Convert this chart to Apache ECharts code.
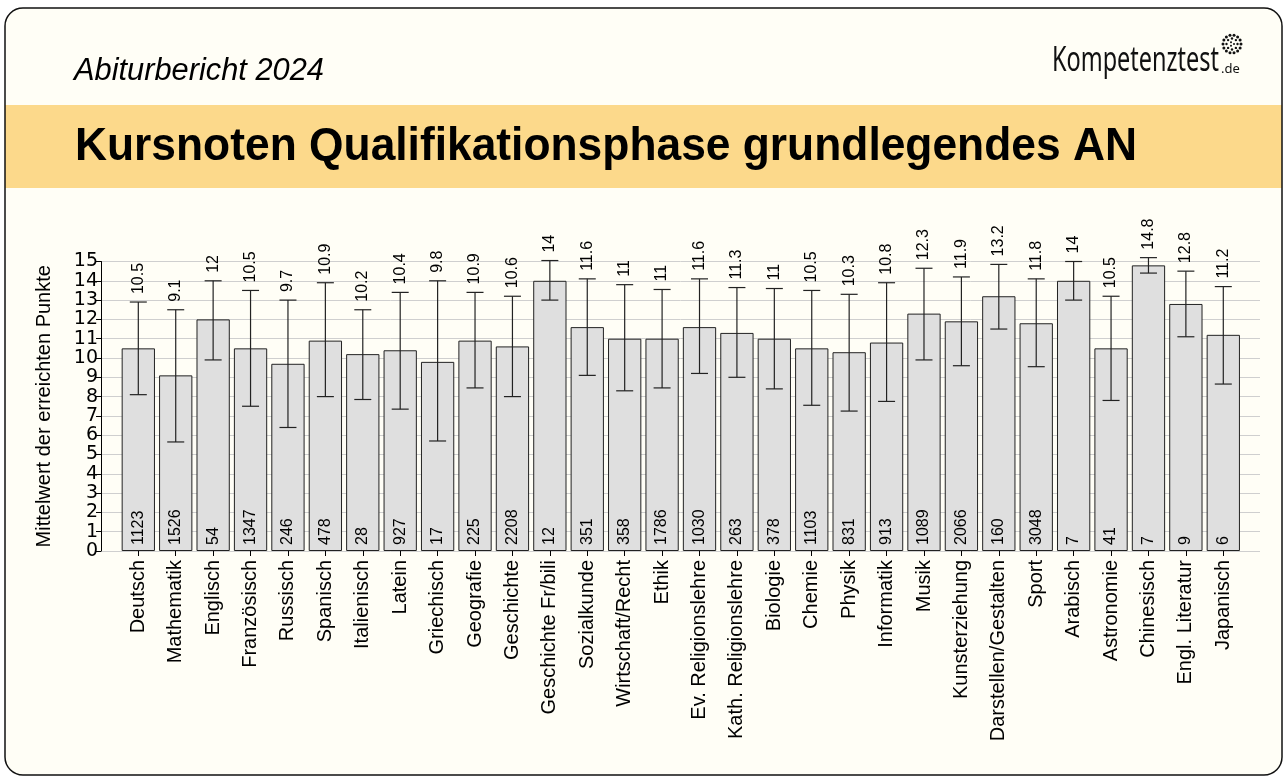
<!DOCTYPE html>
<html>
<head>
<meta charset="utf-8">
<script src="https://cdn.jsdelivr.net/npm/echarts@6/dist/echarts.min.js"></script>
<style>
  html, body { margin: 0; padding: 0; background: #ffffff; }
  #chart { width: 1287px; height: 778px; }
</style>
</head>
<body>
<div id="chart"></div>
<script>
// ---- data ----
const categories = ['Deutsch', 'Mathematik', 'Englisch', 'Französisch', 'Russisch', 'Spanisch', 'Italienisch', 'Latein', 'Griechisch', 'Geografie', 'Geschichte', 'Geschichte Fr/bili', 'Sozialkunde', 'Wirtschaft/Recht', 'Ethik', 'Ev. Religionslehre', 'Kath. Religionslehre', 'Biologie', 'Chemie', 'Physik', 'Informatik', 'Musik', 'Kunsterziehung', 'Darstellen/Gestalten', 'Sport', 'Arabisch', 'Astronomie', 'Chinesisch', 'Engl. Literatur', 'Japanisch'];
const means = [10.5, 9.1, 12, 10.5, 9.7, 10.9, 10.2, 10.4, 9.8, 10.9, 10.6, 14, 11.6, 11, 11, 11.6, 11.3, 11, 10.5, 10.3, 10.8, 12.3, 11.9, 13.2, 11.8, 14, 10.5, 14.8, 12.8, 11.2];
const upper = [12.9, 12.5, 14.0, 13.5, 13.0, 13.9, 12.5, 13.4, 14.0, 13.4, 13.2, 15.05, 14.1, 13.8, 13.55, 14.1, 13.65, 13.6, 13.5, 13.3, 13.9, 14.65, 14.2, 14.85, 14.1, 15.0, 13.2, 15.2, 14.5, 13.7];
const lower = [8.1, 5.65, 9.9, 7.5, 6.4, 8.0, 7.85, 7.35, 5.7, 8.45, 8.0, 13.0, 9.1, 8.3, 8.45, 9.2, 9.0, 8.4, 7.55, 7.25, 7.75, 9.9, 9.6, 11.5, 9.55, 13.0, 7.8, 14.4, 11.1, 8.65];
const counts = [1123, 1526, 54, 1347, 246, 478, 28, 927, 17, 225, 2208, 12, 351, 358, 1786, 1030, 263, 378, 1103, 831, 913, 1089, 2066, 160, 3048, 7, 41, 7, 9, 6];
const yTicks = [0, 15, 1];

const titleText = 'Kursnoten Qualifikationsphase grundlegendes AN';
const subtitleText = 'Abiturbericht 2024';
const yName = 'Mittelwert der erreichten Punkte';

// ---- helpers ----
const FONT = '"Liberation Sans", Arial, Helvetica, sans-serif';
const mctx = document.createElement('canvas').getContext('2d');
function fit(text, font, target) {
  mctx.font = font;
  return target / mctx.measureText(text).width;
}
const titleScale = fit(titleText, 'bold 46px "Liberation Sans"', 1062);
const subScale = fit(subtitleText, 'italic 31px "Liberation Sans"', 250);
const logoScale = fit('Kompetenztest', '35px "Noto Sans"', 167);

// logo dots
const logoDots = [];
(function () {
  const cx = 1232, cy = 44;
  const rings = [[9, 14, 1.5], [5.5, 8, 1.2], [2, 3, 1]];
  rings.forEach(function (r) {
    for (let k = 0; k < r[1]; k++) {
      const a = (2 * Math.PI * k) / r[1];
      logoDots.push({ type: 'circle', shape: { cx: cx + r[0] * Math.cos(a), cy: cy + r[0] * Math.sin(a), r: r[2] }, style: { fill: '#111' }, silent: true });
    }
  });
})();

const errData = categories.map(function (c, i) { return [i, lower[i], upper[i], means[i]]; });

const chart = echarts.init(document.getElementById('chart'), null, { renderer: 'canvas' });

const gridTop = 261.5, gridBottom = 778 - 551;

chart.setOption({
  backgroundColor: 'transparent',
  animation: false,
  textStyle: { fontFamily: FONT },
  graphic: [
    { type: 'rect', z: -100, shape: { x: 5, y: 8, width: 1277, height: 767, r: 18 }, style: { fill: '#FFFEF6' }, silent: true },
    { type: 'rect', z: -99, shape: { x: 5, y: 105, width: 1277, height: 83 }, style: { fill: '#FCD98B' }, silent: true },
    { type: 'rect', z: 100, shape: { x: 5, y: 8, width: 1277, height: 767, r: 18 }, style: { fill: null, stroke: '#111', lineWidth: 1.5 }, silent: true },
    { type: 'text', z: 50, x: 75, y: 147, scaleX: titleScale, style: { text: titleText, fontFamily: '"Liberation Sans"', fontWeight: 'bold', fontSize: 46, fill: '#000', textAlign: 'left', textVerticalAlign: 'middle' }, silent: true },
    { type: 'text', z: 50, x: 74, y: 71, scaleX: subScale, style: { text: subtitleText, fontFamily: '"Liberation Sans"', fontStyle: 'italic', fontSize: 31, fill: '#000', textAlign: 'left', textVerticalAlign: 'middle' }, silent: true },
    { type: 'text', z: 50, x: 1052, y: 61, scaleX: logoScale, style: { text: 'Kompetenztest', fontFamily: '"Noto Sans"', fontSize: 35, fill: '#111', textAlign: 'left', textVerticalAlign: 'middle' }, silent: true },
    { type: 'text', z: 50, x: 1221, y: 69, style: { text: '.de', fontFamily: '"Noto Sans"', fontSize: 13, fill: '#111', textAlign: 'left', textVerticalAlign: 'middle' }, silent: true }
  ].concat(logoDots),
  grid: [
    { left: 101, right: 27, top: gridTop, bottom: gridBottom },
    { left: 119.6, width: 1122.4, top: gridTop, bottom: gridBottom }
  ],
  xAxis: [
    { gridIndex: 0, type: 'value', min: 0, max: 1, show: false },
    {
      gridIndex: 1, type: 'category', data: categories,
      axisLine: { show: false },
      axisTick: { show: true, alignWithLabel: true, length: 5, lineStyle: { color: '#000', width: 1 } },
      axisLabel: { rotate: 90, fontSize: 20, color: '#000', margin: 9, fontFamily: FONT, interval: 0 },
      splitLine: { show: false }
    }
  ],
  yAxis: [
    {
      gridIndex: 0, type: 'value', min: yTicks[0], max: yTicks[1], interval: yTicks[2],
      name: yName, nameLocation: 'middle', nameRotate: 90, nameGap: 47,
      nameTextStyle: { fontSize: 20, color: '#000', fontFamily: FONT },
      axisLine: { show: true, lineStyle: { color: '#000', width: 1 } },
      axisTick: { show: true, length: 5, lineStyle: { color: '#000', width: 1 } },
      axisLabel: { fontSize: 19, color: '#000', margin: 3, fontFamily: '"DejaVu Sans"', showMinLabel: true, showMaxLabel: true, hideOverlap: false, lineHeight: 16 },
      splitLine: { show: true, lineStyle: { color: '#CFCFCF', width: 1 } }
    },
    { gridIndex: 1, type: 'value', min: yTicks[0], max: yTicks[1], show: false, splitLine: { show: false } }
  ],
  series: [
    {
      type: 'bar', xAxisIndex: 1, yAxisIndex: 1, data: means,
      barCategoryGap: '11%',
      itemStyle: { color: '#DFDFDF', borderColor: '#222', borderWidth: 1 },
      label: {
        show: true, position: 'insideBottom', rotate: 90, align: 'left', verticalAlign: 'middle', distance: 6,
        fontSize: 16, color: '#000', fontFamily: FONT,
        formatter: function (p) { return String(counts[p.dataIndex]); }
      },
      z: 2
    },
    {
      type: 'custom', xAxisIndex: 1, yAxisIndex: 1, data: errData, z: 5,
      encode: { x: 0, y: [1, 2] },
      renderItem: function (params, api) {
        const i = api.value(0);
        const lo = api.coord([i, api.value(1)]);
        const hi = api.coord([i, api.value(2)]);
        const hw = 8.5;
        const ls = { stroke: '#222', lineWidth: 1.2 };
        return {
          type: 'group',
          children: [
            { type: 'line', shape: { x1: lo[0], y1: lo[1], x2: hi[0], y2: hi[1] }, style: ls },
            { type: 'line', shape: { x1: lo[0] - hw, y1: lo[1], x2: lo[0] + hw, y2: lo[1] }, style: ls },
            { type: 'line', shape: { x1: hi[0] - hw, y1: hi[1], x2: hi[0] + hw, y2: hi[1] }, style: ls },
            { type: 'text', x: hi[0], y: hi[1] - 8, rotation: Math.PI / 2,
              style: { text: String(api.value(3)), fontSize: 16, fontFamily: FONT, fill: '#000', textAlign: 'left', textVerticalAlign: 'middle' } }
          ]
        };
      }
    }
  ]
});
</script>
</body>
</html>
